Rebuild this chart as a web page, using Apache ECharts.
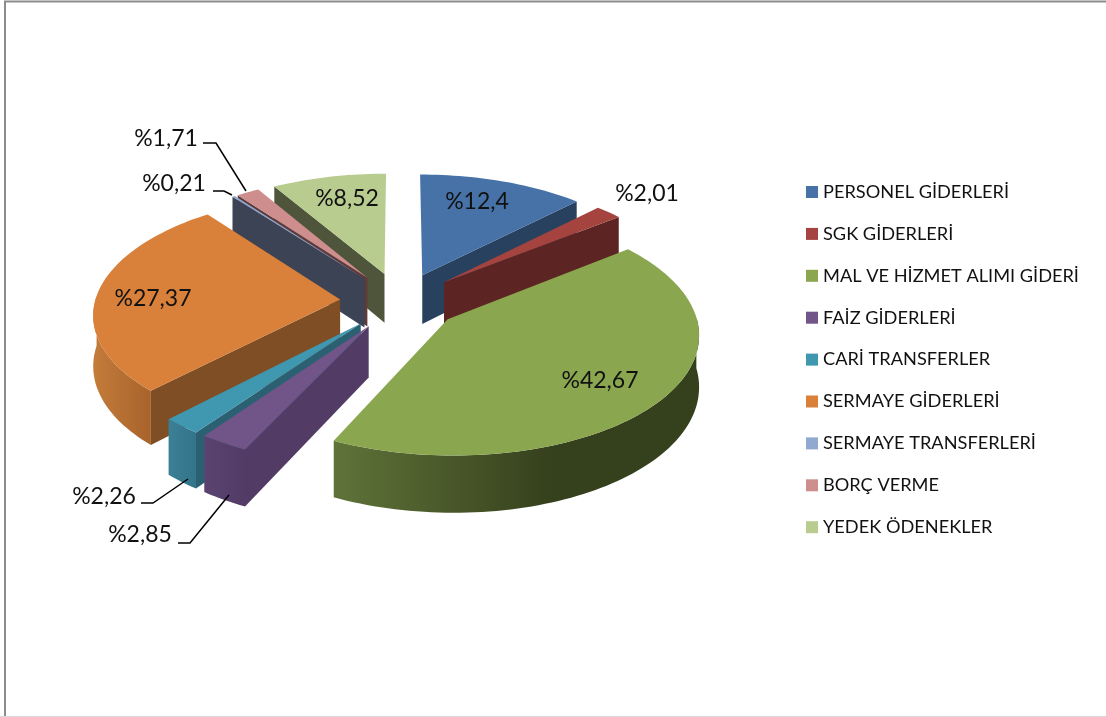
<!DOCTYPE html>
<html>
<head>
<meta charset="utf-8">
<style>html,body{margin:0;padding:0;background:#fff}#c{width:1106px;height:717px}</style>
<script src="https://cdn.jsdelivr.net/npm/echarts@6/dist/echarts.min.js"></script>
</head>
<body>
<div id="c"></div>
<script>
// ---- data ----
const categories = ['PERSONEL GİDERLERİ','SGK GİDERLERİ','MAL VE HİZMET ALIMI GİDERİ','FAİZ GİDERLERİ','CARİ TRANSFERLER','SERMAYE GİDERLERİ','SERMAYE TRANSFERLERİ','BORÇ VERME','YEDEK ÖDENEKLER'];
const values = [12.4, 2.01, 42.67, 2.85, 2.26, 27.37, 0.21, 1.71, 8.52];
const labels = ['%12,4','%2,01','%42,67','%2,85','%2,26','%27,37','%0,21','%1,71','%8,52'];

// ---- styles ----
const topColors  = ['#4672A8','#A5443F','#8AA64E','#715589','#3F97B0','#D9803A','#8FA9D0','#CD8E8D','#B9CC8F'];
const faceColors = ['#27415F','#5C2523','#4A5A2A','#523C66','#2A6072','#804E25','#3B4355','#5E3A3A','#4E553A'];
const wallStops  = [
  ['#27415F','#27415F'],['#5C2523','#5C2523'],['#5F7339','#35401C'],['#5A4370','#523C66'],
  ['#3A8096','#34748A'],['#C47C3A','#A8632C'],['#3B4355','#3B4355'],['#5E3A3A','#5E3A3A'],['#4E553A','#4E553A']
];
const labelPos = [[477,202],[647,194],[600,381],[140,535],[104,497],[153,299],[174,184],[166,139],[347,199]];
const leaders = [null,null,null,
  [[178,543],[190,543],[229,495]],
  [[141,503],[153,503],[188,479]],
  null,
  [[213,191],[224,191],[232,195]],
  [[203,143],[216,143],[246,191]],
  null];

// ---- projection of the exploded tilted pie ----
const cx = 400, cy = 301, A = 245, B = 117, K = 0.11, EXPLODE = 0.245, DEPTH = 50;
const total = values.reduce((s, v) => s + v, 0);
const cum = []; values.reduce((s, v, i) => (cum[i] = s, s + v), 0);
const rad = d => d * Math.PI / 180;
function proj(u, v) {
  const p = 1 / (1 + K * v);
  return [cx + A * u * p, cy - B * v * p, DEPTH * p];
}
function pt(ox, oy, ang) { return proj(ox + Math.sin(ang), oy + Math.cos(ang)); }
const mids = values.map((v, i) => (cum[i] + v / 2) / total * 2 * Math.PI);
const order = mids.map((m, i) => [Math.cos(m), i]).sort((a, b) => b[0] - a[0]);
const zOf = []; order.forEach((o, r) => zOf[o[1]] = r + 2);

function sliceRender(i) {
  return function (params, api) {
    const val = api.value(0);
    const a0 = cum[i] / total * 2 * Math.PI;
    const a1 = a0 + val / total * 2 * Math.PI;
    const ox = EXPLODE * Math.sin(mids[i]), oy = EXPLODE * Math.cos(mids[i]);
    const tip = proj(ox, oy);
    const steps = Math.max(4, Math.ceil((a1 - a0) / rad(1.5)));
    const rim = [];
    for (let s = 0; s <= steps; s++) rim.push(pt(ox, oy, a0 + (a1 - a0) * s / steps));
    const children = [];
    // outer wall, near part only
    const near = [];
    for (let s = 0; s <= steps; s++) {
      const a = a0 + (a1 - a0) * s / steps;
      if (Math.cos(a) < 0.03) near.push(rim[s]);
    }
    if (near.length > 1) {
      const poly = near.map(q => [q[0], q[1]]).concat(near.slice().reverse().map(q => [q[0], q[1] + q[2]]));
      const st = wallStops[i];
      children.push({
        type: 'polygon', shape: { points: poly },
        style: { fill: new echarts.graphic.LinearGradient(0, 0, 1, 0, [
          { offset: 0, color: st[0] }, { offset: i === 2 ? 0.6 : 1, color: st[1] }, { offset: 1, color: st[1] }
        ]) }
      });
    }
    // radial faces that look at the viewer
    const face = q => ({
      type: 'polygon',
      shape: { points: [[tip[0], tip[1]], [q[0], q[1]], [q[0], q[1] + q[2]], [tip[0], tip[1] + tip[2]]] },
      style: { fill: faceColors[i] }
    });
    if (Math.sin(a0) < -1e-6) children.push(face(rim[0]));
    if (Math.sin(a1) > 1e-6) children.push(face(rim[steps]));
    // top surface
    children.push({
      type: 'polygon',
      shape: { points: [[tip[0], tip[1]]].concat(rim.map(q => [q[0], q[1]])) },
      style: { fill: topColors[i] }
    });
    // leader line and label
    if (leaders[i]) {
      children.push({ type: 'polyline', shape: { points: leaders[i] }, style: { stroke: '#000', lineWidth: 1.5, fill: null } });
    }
    children.push({
      type: 'text',
      style: { text: labels[i], x: labelPos[i][0], y: labelPos[i][1], fill: '#111',
        font: '23px Lato', align: 'center', verticalAlign: 'middle' }
    });
    return { type: 'group', children };
  };
}

const chart = echarts.init(document.getElementById('c'), null, { renderer: 'canvas' });
chart.setOption({
  animation: false,
  backgroundColor: '#fff',
  legend: {
    orient: 'vertical', left: 801, top: 178,
    data: categories, selectedMode: false,
    icon: 'rect', itemWidth: 12, itemHeight: 12, itemGap: 23.9,
    textStyle: { fontFamily: 'Lato', fontSize: 18.2, color: '#111', lineHeight: 18 }
  },
  graphic: [
    { type: 'polyline', shape: { points: [[5, 717], [5, 1.5], [1106, 1.5]] }, style: { stroke: '#8c8c8c', lineWidth: 2, fill: null } },
    { type: 'line', shape: { x1: 0, y1: 716.5, x2: 1106, y2: 716.5 }, style: { stroke: '#d9d9d9', lineWidth: 1 } }
  ],
  series: categories.map((name, i) => ({
    type: 'custom', name, coordinateSystem: 'none', z: zOf[i], silent: true, clip: false,
    itemStyle: { color: topColors[i] },
    data: [[values[i]]],
    renderItem: sliceRender(i)
  }))
});
</script>
</body>
</html>
